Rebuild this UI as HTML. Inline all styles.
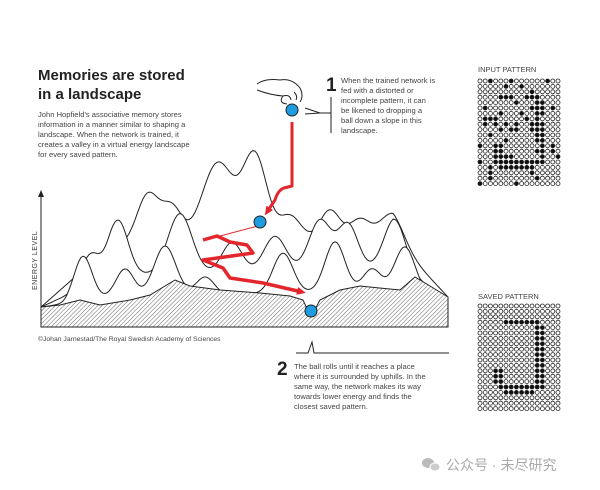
<!DOCTYPE html>
<html><head><meta charset="utf-8"><style>
html,body{margin:0;padding:0;background:#fff;}
body{width:600px;height:490px;position:relative;overflow:hidden;font-family:"Liberation Sans","Noto Sans CJK SC",sans-serif;color:#333;}
.t{position:absolute;}
</style></head><body>
<svg id="s" width="600" height="490" style="position:absolute;left:0;top:0">
<defs>
<pattern id="h" width="3" height="3" patternUnits="userSpaceOnUse" patternTransform="rotate(45)">
<rect width="3" height="3" fill="#fff"/><line x1="0" y1="0" x2="0" y2="3" stroke="#666" stroke-width="1"/>
</pattern>
<marker id="ar" markerUnits="userSpaceOnUse" markerWidth="10" markerHeight="10" refX="5" refY="5" orient="auto"><path d="M0,1 L9,5 L0,9 z" fill="#e3262b"/></marker>
</defs>
<g id="mt"></g>
<path d="M41,327 L41,307 L60,305 L80,300 L100,305 L130,300 L150,295 L175,280 L190,286 L220,290 L260,293 L290,296 L303,300 L311,317 L320,300 L340,290 L360,286 L400,290 L415,277 L430,286 L448,297 L448,327 Z" fill="url(#h)" stroke="#222" stroke-width="1"/>
<line x1="41" y1="327" x2="41" y2="195" stroke="#222" stroke-width="1"/>
<path d="M38,197 L41,190 L44,197 Z" fill="#222"/>
<text x="37" y="290" font-size="7" fill="#333" transform="rotate(-90 37 290)" letter-spacing="0.5">ENERGY LEVEL</text>
<path d="M292,122 L292,186 L284,188 Q278,190 275,200 L267,212" fill="none" stroke="#e3262b" stroke-width="3" marker-end="url(#ar)"/>
<line x1="258" y1="226" x2="205" y2="240" stroke="#e3262b" stroke-width="1"/>
<path d="M203,240 L217,236 L230,242 L247,245 L253,253 L203,260 L223,268 L230,278 L263,283 L302,292" fill="none" stroke="#e3262b" stroke-width="3.5" stroke-linejoin="round" marker-end="url(#ar)"/>
<circle cx="292" cy="110" r="6" fill="#1e9ee0" stroke="#222" stroke-width="1"/>
<circle cx="260" cy="222" r="6" fill="#1e9ee0" stroke="#222" stroke-width="1"/>
<circle cx="311" cy="311" r="6" fill="#1e9ee0" stroke="#222" stroke-width="1"/>
<path d="M257,84 Q265,78 280,80 Q292,78 300,88 Q304,96 300,102 M257,90 Q270,95 283,96 Q290,94 291,100 M283,96 Q278,103 287,104 M294,92 Q298,96 296,100" fill="none" stroke="#222" stroke-width="1"/>
<path d="M331,97 L331,133 M331,113 L320,113 L305,108 M320,113 L305,114" fill="none" stroke="#222" stroke-width="1"/>
<path d="M296,353 L308,353 L312,342 L314,353 L449,353" fill="none" stroke="#222" stroke-width="1"/>
<g id="pat"></g>
<ellipse cx="428" cy="463" rx="6" ry="5" fill="#bbb"/><ellipse cx="435" cy="467" rx="5" ry="4" fill="#ccc" stroke="#fff"/>
</svg>
<div class="t" style="left:38px;top:66px;font-size:15px;font-weight:bold;line-height:19px;color:#222">Memories are stored<br>in a landscape</div>
<div class="t" style="left:38px;top:110px;font-size:7.6px;line-height:10px;color:#444">John Hopfield's associative memory stores<br>information in a manner similar to shaping a<br>landscape. When the network is trained, it<br>creates a valley in a virtual energy landscape<br>for every saved pattern.</div>
<div class="t" style="left:326px;top:75px;font-size:19px;font-weight:bold;color:#222">1</div>
<div class="t" style="left:341px;top:76px;font-size:7.6px;line-height:10px;color:#444">When the trained network is<br>fed with a distorted or<br>incomplete pattern, it can<br>be likened to dropping a<br>ball down a slope in this<br>landscape.</div>
<div class="t" style="left:277px;top:359px;font-size:19px;font-weight:bold;color:#222">2</div>
<div class="t" style="left:294px;top:362px;font-size:7.6px;line-height:10px;color:#444">The ball rolls until it reaches a place<br>where it is surrounded by uphills. In the<br>same way, the network makes its way<br>towards lower energy and finds the<br>closest saved pattern.</div>
<div class="t" style="left:38px;top:336px;font-size:6.8px;color:#444">©Johan Jarnestad/The Royal Swedish Academy of Sciences</div>
<div class="t" style="left:478px;top:65px;font-size:7.5px;color:#444">INPUT PATTERN</div>
<div class="t" style="left:478px;top:292px;font-size:7.5px;color:#444">SAVED PATTERN</div>
<div class="t" style="left:446px;top:455px;font-size:14px;color:#aaa">公众号 · 未尽研究</div>
<script>
var NS="http://www.w3.org/2000/svg";
function ridge(D,peaks){
 var d="";
 for(var x=41;x<=448;x+=2){
  var b=307+(297-307)*(x-41)/407;
  var w=Math.max(0,Math.min(1,(x-41)/70,(448-x)/55));
  var y=D*w,s=0;
  peaks.forEach(function(p){s+=p[1]*Math.exp(-Math.pow((x-p[0])/p[2],2)/2);});
  y+=s*Math.min(1,w*2.5);
  d+=(d?" L":"M")+x+","+(b-y).toFixed(1);
 }
 d+=" L448,325 L41,325 Z";return d;
}
var layers=[
 [60,[[148,50,11],[172,35,10],[218,80,16],[255,85,12],[290,25,11],[330,30,10],[360,20,10],[392,25,12]]],
 [30,[[90,30,9],[118,55,10],[180,60,12],[232,30,10],[275,35,11],[320,50,11],[348,45,10],[395,50,11]]],
 [8,[[83,45,9],[125,28,9],[165,50,11],[205,18,9],[283,40,10],[335,50,10],[372,22,9],[405,45,10]]]
];
var g=document.getElementById("mt");
layers.forEach(function(L){var p=document.createElementNS(NS,"path");p.setAttribute("d",ridge(L[0],L[1]));p.setAttribute("fill","#fff");p.setAttribute("stroke","#222");p.setAttribute("stroke-width","1");g.appendChild(p);});
var saved=[];for(var r=0;r<20;r++){saved.push([]);for(var c=0;c<16;c++)saved[r].push(0);}
for(var c=5;c<=11;c++)saved[3][c]=1;
for(var r=4;r<=15;r++){saved[r][11]=1;saved[r][12]=1;}
for(var r=12;r<=14;r++){saved[r][3]=1;saved[r][4]=1;}
for(var c=4;c<=12;c++)saved[15][c]=1;
for(var c=5;c<=10;c++)saved[16][c]=1;
var seed=7;function rnd(){seed=(seed*9301+49297)%233280;return seed/233280;}
var inp=saved.map(function(row,r){return row.map(function(v,c){var x=v;if(rnd()<0.14)x=1-x;return x;});});
var pg=document.getElementById("pat");
function grid(P,x0,y0){for(var r=0;r<20;r++)for(var c=0;c<16;c++){var e=document.createElementNS(NS,"circle");e.setAttribute("cx",x0+c*5.2);e.setAttribute("cy",y0+r*5.4);e.setAttribute("r",2);e.setAttribute("fill",P[r][c]?"#111":"#fff");e.setAttribute("stroke","#222");e.setAttribute("stroke-width","0.8");pg.appendChild(e);}}
grid(inp,480,81);grid(saved,480,306);
</script>
</body></html>
